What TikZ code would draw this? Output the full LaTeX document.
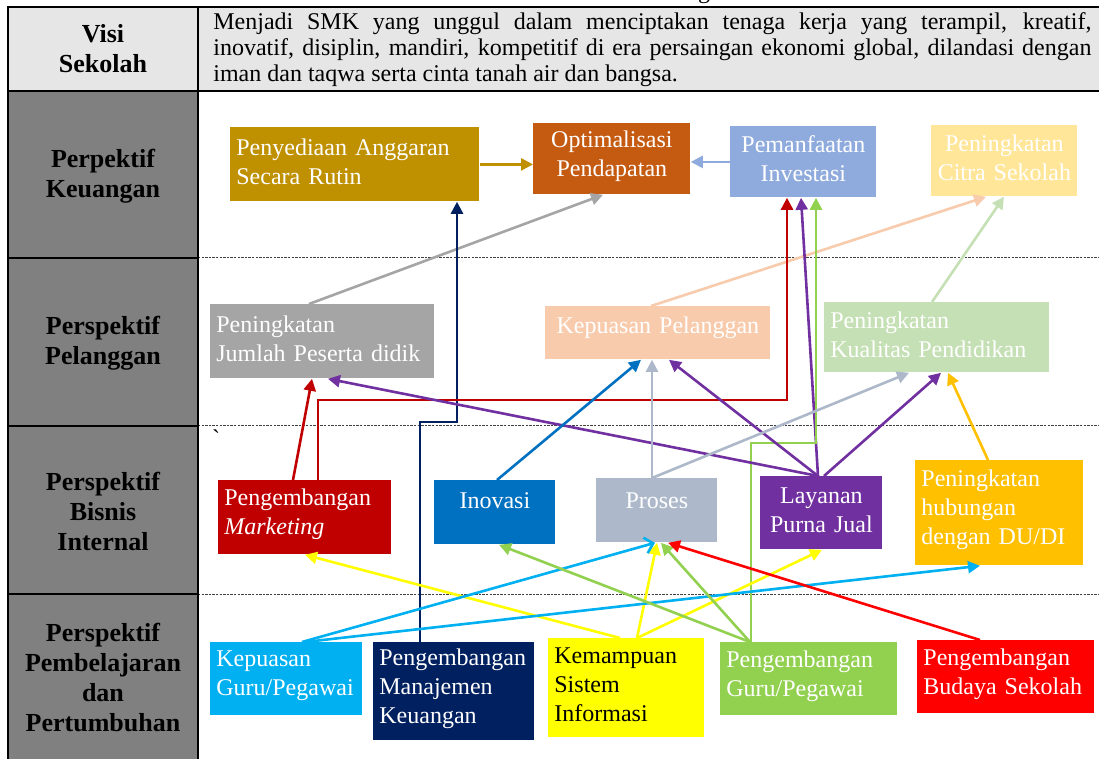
\documentclass[tikz,border=0pt]{standalone}
\usepackage{fontspec}
\setmainfont{Liberation Serif}
\usetikzlibrary{arrows.meta}

\hyphenpenalty=10000
\exhyphenpenalty=10000

% fills of the objective boxes
\definecolor{cGold}{HTML}{BF9000}
\definecolor{cOrange}{HTML}{C55A11}
\definecolor{cInv}{HTML}{8FAADC}
\definecolor{cCitra}{HTML}{FFE699}
\definecolor{cGray}{HTML}{A5A5A5}
\definecolor{cPeach}{HTML}{F8CBAD}
\definecolor{cMint}{HTML}{C5E0B4}
\definecolor{cDarkRed}{HTML}{C00000}
\definecolor{cBlue}{HTML}{0070C0}
\definecolor{cSteel}{HTML}{ADB9CA}
\definecolor{cPurple}{HTML}{7030A0}
\definecolor{cAmber}{HTML}{FFC000}
\definecolor{cCyan}{HTML}{00B0F0}
\definecolor{cNavy}{HTML}{002060}
\definecolor{cYellow}{HTML}{FFFF00}
\definecolor{cGreen}{HTML}{92D050}
\definecolor{cRed}{HTML}{FF0000}
% table shading
\definecolor{cLight}{HTML}{E6E6E6}
\definecolor{cHead}{HTML}{808080}

\newcommand\boxfont{\fontsize{12}{14.5}\selectfont}
\newcommand\headfont{\fontsize{13}{15}\selectfont\bfseries}
\newcommand\visifont{\fontsize{12}{13}\selectfont}

\tikzset{
  objbox/.style={anchor=north west, inner xsep=3pt, inner ysep=0pt,
    font=\boxfont, text=white, align=left,
    execute at end node={\par\vspace{3pt}}},
  onelinebox/.style={anchor=north west, inner xsep=3pt, inner ysep=0pt,
    font=\boxfont, text=white, align=center},
  head/.style={font=\headfont, align=center, text=black},
  conn/.style={line width=1.3pt, -{Triangle[length=6pt,width=6pt]}},
  barb/.style={line width=1.3pt, -{Straight Barb[length=4pt,width=8pt]}},
  frame/.style={line width=1pt, black},
  rowsolid/.style={line width=0.6pt, black},
  rowdash/.style={line width=0.5pt, black!75, dash pattern=on 1.2pt off 0.6pt},
}

\begin{document}
\begin{tikzpicture}[x=0.5pt, y=-0.5pt]
\useasboundingbox (0,0) rectangle (1099,759);
\clip (0,0) rectangle (1099,759);
\fill[white] (0,0) rectangle (1099,759);

% table background
\fill[cLight] (8,7) rectangle (1099,91);
\fill[cHead] (8,91) rectangle (198,759);
\foreach \yy in {258,426,594} {
  \draw[rowdash] (198,\yy) -- (1099,\yy);
  \draw[rowsolid] (8,\yy) -- (198,\yy);
}
\draw[frame] (1099,7) -- (8,7) -- (8,759);
\draw[frame] (198,7) -- (198,759);
\draw[frame] (8,91) -- (1099,91);

% caption fragment above the table
\node[font=\visifont, anchor=base, inner sep=0pt] (capg) at (704,-1) {g};

% row headings
\node[head] (hvisi) at (103,49) {Visi\\Sekolah};
\node[head] (hkeu) at (103,176) {Perpektif\\Keuangan};
\node[head] (hpel) at (103,343) {Perspektif\\Pelanggan};
\node[head] (hbis) at (103,511) {Perspektif\\Bisnis\\Internal};
\node[head] (hpem) at (103,678) {Perspektif\\Pembelajaran\\dan\\Pertumbuhan};

% vision statement
\node[anchor=north west, inner sep=0pt, font=\visifont, text width=439pt, align=justify] (vtext) at (213,12)
  {Menjadi SMK yang unggul dalam menciptakan tenaga kerja yang terampil, kreatif,\linebreak
   inovatif, disiplin, mandiri, kompetitif di era persaingan ekonomi global, dilandasi dengan\linebreak
   iman dan taqwa serta cinta tanah air dan bangsa.};

% financial perspective
\node[objbox, fill=cGold, minimum width=124.5pt, minimum height=37pt, text width=118.5pt] (pen) at (230,127)
  {Penyediaan Anggaran\\Secara Rutin};
\node[objbox, fill=cOrange, minimum width=78.5pt, minimum height=35.5pt, text width=72.5pt, align=center] (opt) at (533,123)
  {Optimalisasi\\Pendapatan};
\node[objbox, fill=cInv, minimum width=73pt, minimum height=35.5pt, text width=67pt, align=center] (inv) at (730,126)
  {Pemanfaatan\\Investasi};
\node[objbox, fill=cCitra, minimum width=73pt, minimum height=35.5pt, text width=67pt, align=center] (cit) at (931,125)
  {Peningkatan\\Citra Sekolah};

% customer perspective
\node[objbox, fill=cGray, minimum width=112pt, minimum height=37pt, text width=106pt] (jum) at (210,304)
  {Peningkatan\\Jumlah Peserta didik};
\node[onelinebox, fill=cPeach, minimum width=112.5pt, text width=106.5pt, text height=13.5pt, text depth=13pt] (kpl) at (545,306)
  {Kepuasan Pelanggan};
\node[objbox, fill=cMint, minimum width=112.5pt, minimum height=35pt, text width=106.5pt] (kua) at (824,302)
  {Peningkatan\\Kualitas Pendidikan};

% internal business perspective
\node[font=\boxfont, inner sep=0pt] (tick) at (216,438) {\textasciigrave};
\node[objbox, fill=cDarkRed, minimum width=86.5pt, minimum height=37pt, text width=80.5pt] (mkt) at (218,480)
  {Pengembangan\\\textit{Marketing}};
\node[onelinebox, fill=cBlue, minimum width=60.5pt, text width=54.5pt, text height=14pt, text depth=18pt] (ino) at (434,480)
  {Inovasi};
\node[onelinebox, fill=cSteel, minimum width=60.5pt, text width=54.5pt, text height=15pt, text depth=17pt] (pro) at (596,478)
  {Proses};
\node[objbox, fill=cPurple, minimum width=61pt, minimum height=36.5pt, text width=55pt, align=center] (lay) at (760,476)
  {Layanan\\Purna Jual};
\node[objbox, fill=cAmber, minimum width=84pt, minimum height=52.5pt, text width=78pt] (dud) at (915,460)
  {Peningkatan\\hubungan\\dengan DU/DI};

% learning and growth perspective
\node[objbox, fill=cCyan, minimum width=76pt, minimum height=36.5pt, text width=70pt] (kgu) at (210,642)
  {Kepuasan\\Guru/Pegawai};
\node[objbox, fill=cNavy, minimum width=80.5pt, minimum height=49pt, text width=74.5pt] (mjk) at (373,642)
  {Pengembangan\\Manajemen\\Keuangan};
\node[objbox, fill=cYellow, text=black, minimum width=78pt, minimum height=49.5pt, text width=72pt] (ksi) at (548,638)
  {Kemampuan\\Sistem\\Informasi};
\node[objbox, fill=cGreen, minimum width=88.5pt, minimum height=36.5pt, text width=82.5pt] (pgu) at (720,642)
  {Pengembangan\\Guru/Pegawai};
\node[objbox, fill=cRed, minimum width=88.5pt, minimum height=36.5pt, text width=82.5pt] (bud) at (917,640)
  {Pengembangan\\Budaya Sekolah};

% cause-and-effect links
\draw[conn, color=cGold] (pen.east) -- (pen.east -| opt.west);
\draw[conn, color=cInv] (inv.west) -- (inv.west -| opt.east);
\draw[conn, color=cGray] ([shift={(99,0)}]jum.north west) -- ([shift={(70,0)}]opt.south west);
\draw[conn, color=cNavy] ([shift={(47,0)}]mjk.north west) -- ++(0,-220) -| ([shift={(227,0)}]pen.south west);

\draw[conn, color=cPeach] ([shift={(106,0)}]kpl.north west) -- ([shift={(55,0)}]cit.south west);
\draw[conn, color=cMint] ([shift={(108,0)}]kua.north west) -- ([shift={(73,0)}]cit.south west);

\draw[conn, color=cDarkRed] ([shift={(75,0)}]mkt.north west) -- ([shift={(102,0)}]jum.south west);
\draw[conn, color=cDarkRed] ([shift={(100,0)}]mkt.north west) -- ++(0,-80) -| ([shift={(57,0)}]inv.south west);
\draw[conn, color=cPurple] ([shift={(58,0)}]lay.north west) -- ([shift={(71,0)}]inv.south west);
\draw[conn, color=cGreen] ([shift={(31,0)}]pgu.north west) -- ++(0,-199) -| ([shift={(86,0)}]inv.south west);

\draw[conn, color=cPurple] ([shift={(58,0)}]lay.north west) -- ([shift={(118,0)}]jum.south west);
\draw[conn, color=cBlue] ([shift={(63,0)}]ino.north west) -- ([shift={(96,0)}]kpl.south west);
\draw[conn, color=cSteel] ([shift={(56,0)}]pro.north west) -- ([shift={(107,0)}]kpl.south west);
\draw[conn, color=cPurple] ([shift={(58,0)}]lay.north west) -- ([shift={(124,0)}]kpl.south west);
\draw[conn, color=cSteel] ([shift={(56,0)}]pro.north west) -- ([shift={(85,0)}]kua.south west);
\draw[conn, color=cPurple] ([shift={(64,0)}]lay.north west) -- ([shift={(117,0)}]kua.south west);
\draw[conn, color=cAmber] ([shift={(73,0)}]dud.north west) -- ([shift={(124,0)}]kua.south west);

\draw[conn, color=cYellow] ([shift={(72,0)}]ksi.north west) -- ([shift={(87,0)}]mkt.south west);
\draw[conn, color=cYellow] ([shift={(89,0)}]ksi.north west) -- ([shift={(61,0)}]pro.south west);
\draw[conn, color=cYellow] ([shift={(89,0)}]ksi.north west) -- ([shift={(62,0)}]lay.south west);
\draw[barb, color=cCyan] ([shift={(92,0)}]kgu.north west) -- ([shift={(59,0)}]pro.south west);
\draw[conn, color=cCyan] ([shift={(95,0)}]kgu.north west) -- ([shift={(65,0)}]dud.south west);
\draw[conn, color=cGreen] ([shift={(30,0)}]pgu.north west) -- ([shift={(65,0)}]ino.south west);
\draw[conn, color=cGreen] ([shift={(30,0)}]pgu.north west) -- ([shift={(65,0)}]pro.south west);
\draw[conn, color=cRed] ([shift={(63,0)}]bud.north west) -- ([shift={(72,0)}]pro.south west);
\end{tikzpicture}
\end{document}
